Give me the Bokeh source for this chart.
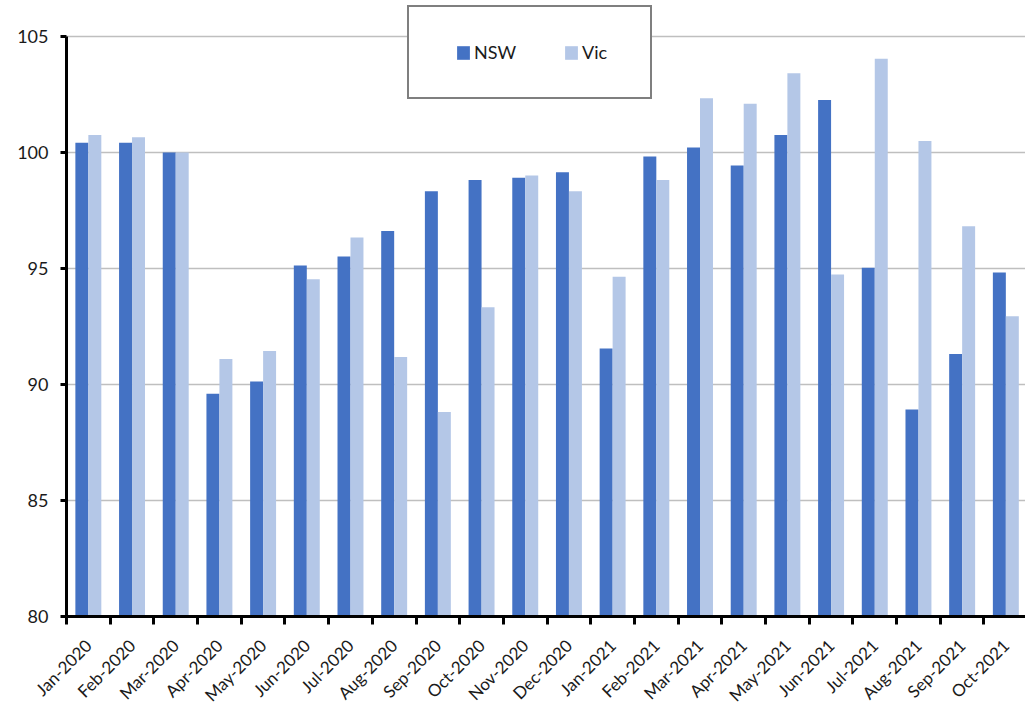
from bokeh.plotting import figure
from bokeh.models import Range1d, FixedTicker, ColumnDataSource, Legend, LegendItem
from bokeh.embed import file_html
from bokeh.resources import INLINE
import math

months = ["Jan-2020", "Feb-2020", "Mar-2020", "Apr-2020", "May-2020", "Jun-2020",
          "Jul-2020", "Aug-2020", "Sep-2020", "Oct-2020", "Nov-2020", "Dec-2020",
          "Jan-2021", "Feb-2021", "Mar-2021", "Apr-2021", "May-2021", "Jun-2021",
          "Jul-2021", "Aug-2021", "Sep-2021", "Oct-2021"]
nsw = [100.42, 100.42, 100.0, 89.6, 90.13, 95.13, 95.52, 96.62, 98.33, 98.82, 98.91, 99.15,
       91.55, 99.83, 100.22, 99.44, 100.75, 102.26, 95.03, 88.92, 91.31, 94.83]
vic = [100.75, 100.66, 100.0, 91.1, 91.44, 94.54, 96.34, 91.19, 88.81, 93.33, 99.01, 98.33,
       94.64, 98.82, 102.34, 102.1, 103.42, 94.74, 104.04, 100.5, 96.82, 92.94]
y_ticks = [80, 85, 90, 95, 100, 105]

FONT = "Lato"
NSW_COLOR = "#4472C4"
VIC_COLOR = "#B4C7E7"
TEXT_COLOR = "#1a1a1a"

centers = [i + 0.5 for i in range(len(months))]
bounds = [i for i in range(len(months) + 1)]
bar_w = 0.297

src = ColumnDataSource(dict(
    x_nsw=[c - bar_w / 2 for c in centers],
    x_vic=[c + bar_w / 2 for c in centers],
    nsw=nsw, vic=vic,
))

# frame spans from figure top (room for the legend box above the 105 line)
p = figure(width=1025, height=715, output_backend="svg", toolbar_location=None,
           x_range=Range1d(0, 21.95), y_range=Range1d(80, 105 + 36 / 23.2),
           min_border_left=66, min_border_right=0, min_border_top=0, min_border_bottom=99)
p.outline_line_color = None
p.background_fill_color = "white"
p.border_fill_color = "white"

r_nsw = p.vbar(x="x_nsw", top="nsw", bottom=80, width=bar_w, source=src,
               fill_color=NSW_COLOR, line_color=None)
r_vic = p.vbar(x="x_vic", top="vic", bottom=80, width=bar_w, source=src,
               fill_color=VIC_COLOR, line_color=None)
# invisible renderer used only for the legend frame
r_box = p.vbar(x=[], top=[], bottom=80, width=bar_w, fill_alpha=0, line_alpha=0)

# grid
p.xgrid.visible = False
p.ygrid.ticker = FixedTicker(ticks=y_ticks)
p.ygrid.grid_line_color = "#BFBFBF"
p.ygrid.grid_line_width = 1.5

# y axis
ya = p.yaxis[0]
ya.ticker = FixedTicker(ticks=y_ticks)
ya.bounds = (80, 105)
ya.axis_line_color = "black"
ya.axis_line_width = 3
ya.major_tick_line_color = "black"
ya.major_tick_line_width = 3
ya.major_tick_out = 6
ya.major_tick_in = 0
ya.minor_tick_line_color = None
ya.major_label_text_font = FONT
ya.major_label_text_font_size = "18px"
ya.major_label_text_color = TEXT_COLOR
ya.major_label_standoff = 12

# x axis: labels at centers, tick marks at boundaries
xa = p.xaxis[0]
xa.ticker = FixedTicker(ticks=centers, minor_ticks=bounds)
xa.major_label_overrides = {c: m for c, m in zip(centers, months)}
xa.axis_line_color = "black"
xa.axis_line_width = 3
xa.major_tick_line_color = None
xa.major_tick_out = 0
xa.major_tick_in = 0
xa.minor_tick_line_color = "black"
xa.minor_tick_line_width = 3
xa.minor_tick_out = 8
xa.minor_tick_in = 0
xa.major_label_orientation = math.pi / 4
xa.major_label_text_font = FONT
xa.major_label_text_font_size = "17px"
xa.major_label_text_color = TEXT_COLOR
xa.major_label_standoff = 18

# legend frame (box only)
box = Legend(items=[LegendItem(label=" ", renderers=[r_box])],
             location=(341, 517), orientation="horizontal",
             padding=0, glyph_width=1, glyph_height=1, label_standoff=0,
             label_width=240, label_height=90,
             border_line_color="black", border_line_width=2.5,
             background_fill_color="white", background_fill_alpha=1,
             label_text_alpha=0)
p.add_layout(box)

# legend entries
lg = Legend(items=[LegendItem(label="NSW", renderers=[r_nsw]),
                   LegendItem(label="Vic", renderers=[r_vic])],
            location=(389, 553), orientation="horizontal",
            padding=0, spacing=47, label_standoff=3,
            glyph_width=16, glyph_height=17, label_height=17,
            border_line_color=None, background_fill_alpha=0,
            label_text_font=FONT, label_text_font_size="18px",
            label_text_color=TEXT_COLOR)
p.add_layout(lg)

open("out.html", "w").write(file_html(p, INLINE))
